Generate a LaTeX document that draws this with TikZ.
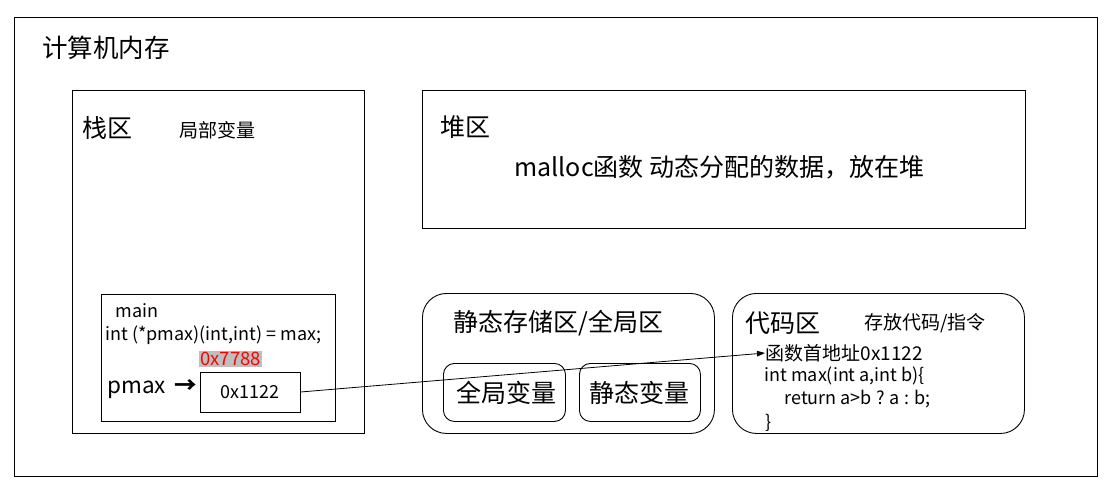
\documentclass[tikz,border=0pt]{standalone}
\usepackage{fontspec}
\setmainfont{Noto Sans CJK SC}
\usetikzlibrary{arrows.meta}
\begin{document}
\begin{tikzpicture}[x=1pt,y=-1pt,line width=0.9pt,
  region/.style={draw,rectangle,anchor=north west,inner sep=0pt},
  rregion/.style={draw,rectangle,rounded corners=24pt,anchor=north west,inner sep=0pt},
  rsmall/.style={draw,rectangle,rounded corners=11pt,anchor=north west,inner sep=0pt},
  lbl/.style={anchor=west,inner sep=0pt},
  big/.style={lbl,font=\fontsize{25}{28}\selectfont},
  mid/.style={lbl,font=\fontsize{19}{22}\selectfont},
  code/.style={lbl,font=\fontsize{18}{21}\selectfont}]
\useasboundingbox (0,0) rectangle (1107,488);
% regions
\node[region,minimum width=1083pt,minimum height=459pt] (outer) at (14,17) {};
\node[region,minimum width=292pt,minimum height=343pt] (stack) at (72,90) {};
\node[region,minimum width=603pt,minimum height=138pt] (heap) at (422,90) {};
\node[region,minimum width=234pt,minimum height=127pt] (mainbox) at (101,294) {};
\node[rregion,minimum width=292pt,minimum height=140pt] (static) at (422,293) {};
\node[rsmall,minimum width=122pt,minimum height=58pt] (gvar) at (443,363) {};
\node[rsmall,minimum width=121pt,minimum height=58pt] (svar) at (579,363) {};
\node[rregion,minimum width=292pt,minimum height=140pt] (code) at (732,293) {};
% titles
\node[big,font=\fontsize{25.5}{28}\selectfont] (title) at (42,48) {计算机内存};
\node[big] (stackt) at (82,128) {栈区};
\node[mid] (local) at (179,130) {局部变量};
\node[big] (heapt) at (440,127) {堆区};
\node[big] (heapd) at (514,167) {malloc函数 动态分配的数据，放在堆};
\node[big] (statict) at (453,323) {静态存储区/全局区};
\node[big] (gvart) at (456,393) {全局变量};
\node[big] (svart) at (589,393) {静态变量};
\node[big] (codet) at (745,323) {代码区};
\node[mid] (coded) at (864,323) {存放代码/指令};
% code lines
\node[code,font=\fontsize{19}{22}\selectfont] (fn) at (765,353) {函数首地址0x1122};
\node[code] (l1) at (764,376) {int max(int a,int b)\{};
\node[code] (l2) at (784,399) {return a>b ? a : b;};
\node[code] (l3) at (765,423) {\}};
% main
\node[code] (mainl) at (115,311) {main};
\node[code] (decl) at (105,335) {int (*pmax)(int,int) = max;};
\node[code,fill=black!25,text=red,inner sep=1pt,font=\fontsize{18.5}{21}\selectfont] (addr) at (199,359) {0x7788};
\node[big,font=\fontsize{22.5}{25}\selectfont] (pmax) at (107,390) {pmax};
\node[big,font=\fontsize{22.5}{25}\selectfont\bfseries] (parrow) at (174,387) {→};
\node[draw,rectangle,minimum width=100pt,minimum height=40pt,inner sep=0pt,font=\fontsize{18}{21}\selectfont] (val) at (250,392) {0x1122};
% connector
\draw[line width=0.8pt,-{Triangle[length=8pt,width=5.5pt]}] (val.east) -- (fn.west);
\end{tikzpicture}
\end{document}
